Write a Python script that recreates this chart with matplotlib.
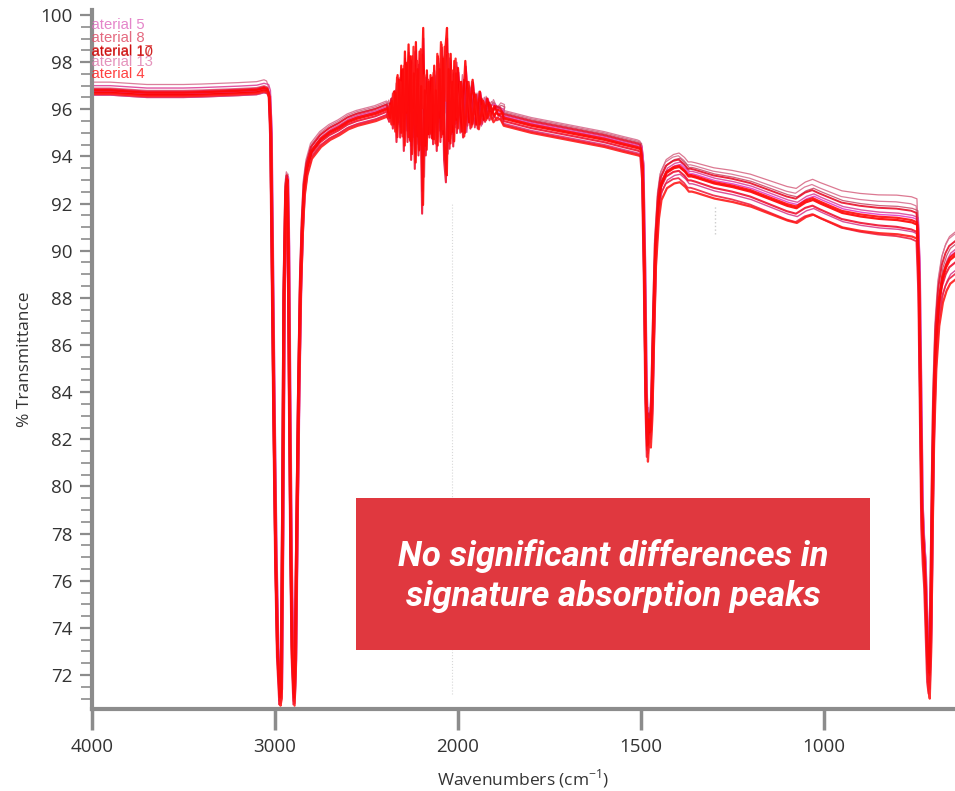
import numpy as np
import matplotlib
matplotlib.use("Agg")
import matplotlib.pyplot as plt
from matplotlib.ticker import MultipleLocator, FixedLocator
from matplotlib.patches import Rectangle

plt.rcParams['font.family'] = ['Open Sans', 'DejaVu Sans']
plt.rcParams['mathtext.fontset'] = 'custom'
plt.rcParams['mathtext.rm'] = 'Open Sans'

# shared spectrum shape (wavenumber, %T), noise region excluded
hi_wn = [4000, 3900, 3800, 3700, 3600, 3500, 3400, 3300, 3200, 3100, 3060, 3040,
         3030, 3022, 3015, 3005, 2995, 2985, 2972, 2965, 2958, 2950, 2940, 2932,
         2926, 2920, 2912, 2905, 2895, 2888, 2880, 2870, 2860, 2850, 2840, 2825,
         2800, 2750, 2700, 2650, 2600, 2550, 2500, 2450, 2400, 2385]
hi_t = [96.7, 96.7, 96.65, 96.6, 96.6, 96.6, 96.62, 96.65, 96.68, 96.72, 96.8, 96.75,
        96.5, 95.0, 90.0, 83.0, 77.0, 73.0, 71.0, 71.3, 78.0, 88.0, 92.5, 93.0,
        90.0, 84.0, 77.0, 73.0, 71.0, 72.5, 78.0, 84.0, 88.5, 91.0, 92.6, 93.5,
        94.2, 94.7, 95.0, 95.2, 95.45, 95.6, 95.7, 95.8, 95.95, 96.0]

lo_wn = [1875, 1850, 1800, 1750, 1700, 1650, 1600, 1550, 1510, 1500, 1495, 1490,
         1486, 1482, 1478, 1474, 1470, 1465, 1460, 1452, 1445, 1430, 1410, 1395,
         1380, 1370, 1362, 1350, 1320, 1300, 1250, 1200, 1150, 1100, 1075, 1050,
         1030, 1010, 980, 950, 900, 850, 800, 760, 745, 740, 736, 732, 728, 724,
         720, 716, 712, 708, 704, 700, 694, 686, 676, 666, 656, 640]
lo_t = [95.6, 95.5, 95.3, 95.15, 95.0, 94.85, 94.7, 94.5, 94.35, 94.3, 93.5, 89.0,
        84.0, 81.7, 82.8, 82.3, 83.5, 87.0, 90.0, 92.0, 92.8, 93.3, 93.5, 93.55,
        93.35, 93.15, 93.15, 93.1, 92.95, 92.85, 92.7, 92.5, 92.2, 91.9, 91.8, 92.05,
        92.15, 92.0, 91.8, 91.6, 91.45, 91.35, 91.3, 91.2, 91.1, 89.0, 84.0, 79.0,
        77.5, 76.5, 74.5, 72.5, 72.0, 74.0, 79.0, 83.0, 86.0, 87.8, 88.8, 89.3,
        89.6, 89.8]

# noisy CO2 / water region 2380 -> 1880, deviations from the local level
noise_level = 95.85
noise_a = [0.0, 0.4, -0.3, 0.9, -0.5, 1.6, -0.2, 2.0, -0.8, 2.6,
           0.0, 2.9, -1.2, 2.4, 0.2, 3.0, -1.0, 2.6, 0.6, 3.6,
           -1.4, 1.8, -0.9, 1.6, -1.1, 2.0, -0.6, 2.4, -0.2, 2.9,
           -0.9, 2.6, 3.6, -1.2, 2.5, -0.8, 2.2, -0.3, 1.9, -0.8,
           2.2, -0.4, 1.4, -0.5, 0.9, -0.3, 0.6, -0.1, 0.3, -0.1, 0.0]
noise_b = [0.0, -0.3, 0.5, -0.6, 0.9, -1.2, 1.5, -1.0, 2.0, -1.6,
           2.3, -1.2, 2.6, -2.0, 1.8, -2.4, 2.0, -1.8, 1.2, -4.4,
           1.0, -1.8, 1.4, -1.0, 1.6, -1.3, 1.0, -1.6, 2.0, -1.2,
           2.5, -2.0, -3.0, 2.0, -1.5, 1.4, -1.4, 1.8, -0.8, 1.4,
           -1.0, 1.4, -0.6, 0.8, -0.6, 0.5, -0.3, 0.3, -0.2, 0.1, 0.0]
noise_c = [0.1, 0.6, -0.2, 1.1, -0.5, 1.8, 0.0, 1.6, -0.7, 2.3,
           0.4, 1.8, 2.7, -0.9, 3.1, -0.2, 2.5, -1.3, 3.0, 0.5,
           1.9, -0.8, 1.7, -0.6, 1.2, 2.0, -1.0, 2.8, 0.4, 3.3,
           -0.4, 3.1, 0.8, 2.8, -0.8, 2.1, -0.2, 2.6, 0.1, 1.6,
           -0.7, 1.3, -0.3, 0.9, -0.4, 0.6, 0.0, 0.3, -0.1, 0.1, 0.0]
noise_patterns = [noise_a, noise_b, noise_c]

# per-material differences
off_hi = [0.0, 0.1, -0.1, 0.2, 0.45, -0.05, 0.05, 0.15, -0.1, 0.0, 0.1, 0.3]
off_mid = [0.0, 0.2, -0.2, 0.3, 0.35, -0.3, 0.1, -0.1, 0.25, -0.25, 0.05, 0.15]
off_lo_a = [0.0, 0.3, -0.3, 0.55, 0.45, -0.65, 0.1, -0.15, 0.35, -0.45, 0.05, 0.2]
off_lo_b = [0.0, 0.5, -0.4, 1.1, 0.8, -0.6, 0.2, -0.3, 0.6, -0.7, 0.1, 0.3]
off_tail = [0.0, 0.6, -0.6, 1.0, 0.9, -1.0, 0.2, -0.3, 0.5, -0.8, 0.1, 0.3]
wn_shift = [0, 4, -4, 2, 6, -2, -6, 3, -3, 5, 1, -5]
noise_scale = [1.0, 0.8, 0.9, 0.6, 0.7, 1.0, 0.85, 0.95, 0.65, 0.75, 0.9, 0.7]
noise_shift = [0, 5, -4, 8, -7, 3, -2, 6, -8, 4, 1, -5]
colors = ['#ff0000', '#e8102a', '#d83c8c', '#d86a86', '#d87090', '#ff1a1a',
          '#e33cc8', '#f01030', '#c9506e', '#ee2244', '#ff0a0a', '#dd4499']
widths = [1.6, 1.4, 1.0, 0.9, 0.9, 1.6, 1.0, 1.5, 0.9, 1.3, 1.6, 1.0]

legend_names = ['Material 5', 'Material 8', 'Material 17', 'Material 10', 'Material 13', 'Material 4']
legend_colors = ['#e070c0', '#e0506a', '#e04848', '#c80000', '#e080b0', '#ff2020']
legend_y = [0.978, 0.960, 0.942, 0.940, 0.925, 0.908]

x_ticks = [4000, 3000, 2000, 1500, 1000]


def fwd(w):
    w = np.asarray(w, dtype=float)
    return np.where(w >= 2000, w, 2 * w - 2000)


def inv(x):
    x = np.asarray(x, dtype=float)
    return np.where(x >= 2000, x, (x + 2000) / 2)


fig = plt.figure(figsize=(9.55, 7.91), dpi=100)
ax = fig.add_axes([92 / 955, 82 / 791, 863 / 955, 699 / 791])
ax.set_xscale('function', functions=(fwd, inv))

lo_wn_arr = np.array(lo_wn, dtype=float)
order = sorted(range(len(colors)), key=lambda k: widths[k])
for i in order:
    s = wn_shift[i]
    hw = np.array(hi_wn, dtype=float)
    ht = np.array(hi_t) + np.where(hw >= 3030, off_hi[i], off_mid[i])
    hw = np.where(hw > 3045, hw, hw + s)

    pat = np.array(noise_patterns[i % 3])
    nw = np.linspace(2380, 1880, len(pat)) + noise_shift[i]
    nt = noise_level + off_mid[i] + noise_scale[i] * pat

    frac = np.clip((1450 - lo_wn_arr) / (1450 - 745), 0, 1)
    lo_off = off_lo_a[i] + (off_lo_b[i] - off_lo_a[i]) * frac
    lo_off = np.where(lo_wn_arr >= 1500, off_mid[i], lo_off)
    lo_off = np.where(lo_wn_arr < 742, off_tail[i], lo_off)
    lt = np.array(lo_t) + lo_off
    lw_ = np.where(lo_wn_arr > 1505, lo_wn_arr, lo_wn_arr + s * 0.5)

    x = np.concatenate([hw, nw, lw_])
    y = np.concatenate([ht, nt, lt])
    ax.plot(x, y, color=colors[i], lw=widths[i], alpha=0.9, solid_joinstyle='round')

# faint scan artefacts
ax.plot([2033, 2033], [71.2, 92.0], color='#d8d8d8', lw=0.8, ls=':')
ax.plot([1298, 1298], [90.7, 91.9], color='#cccccc', lw=1.0, ls=':')

for name, c, yy in zip(legend_names, legend_colors, legend_y):
    ax.text(-0.0151, yy, name, transform=ax.transAxes, color=c, fontsize=10.7,
            family=['Liberation Sans', 'DejaVu Sans'], va='center', ha='left',
            clip_on=True, alpha=0.85)

ax.set_xlim(4000, 642)
ax.set_ylim(70.56, 100.21)
ax.xaxis.set_major_locator(FixedLocator(x_ticks))
ax.xaxis.set_minor_locator(FixedLocator([]))
ax.set_xticklabels([str(t) for t in x_ticks])
ax.yaxis.set_major_locator(MultipleLocator(2))
ax.yaxis.set_minor_locator(MultipleLocator(0.5))

spine_c = '#8c8c8c'
for side in ['top', 'right']:
    ax.spines[side].set_visible(False)
for side in ['left', 'bottom']:
    ax.spines[side].set_color(spine_c)
    ax.spines[side].set_linewidth(3)
ax.tick_params(axis='x', which='major', direction='out', length=15, width=2.5,
               color=spine_c, labelsize=13.5, labelcolor='#333333', pad=6)
ax.tick_params(axis='y', which='major', direction='out', length=9, width=1.6,
               color=spine_c, labelsize=13.5, labelcolor='#333333', pad=5)
ax.tick_params(axis='y', which='minor', direction='out', length=8, width=1.2,
               color=spine_c)

ax.set_xlabel('Wavenumbers (cm$^{-1}$)', fontsize=12.5, color='#333333', labelpad=8)
ax.set_ylabel('% Transmittance', fontsize=12.5, color='#333333')
ax.yaxis.set_label_coords(-0.068, 0.5)

# callout box
box = Rectangle((356 / 955, (791 - 650) / 791), 514 / 955, 152 / 791,
                transform=fig.transFigure, facecolor='#e0383f', edgecolor='none', zorder=5)
fig.patches.append(box)
fig.text(613 / 955, (791 - 576) / 791,
         'No significant differences in\nsignature absorption peaks',
         ha='center', va='center', color='white', fontsize=25, fontweight='bold',
         fontstyle='italic', linespacing=1.3, zorder=6,
         family=['Roboto', 'DejaVu Sans'])

fig.savefig('out.png', dpi=100)
